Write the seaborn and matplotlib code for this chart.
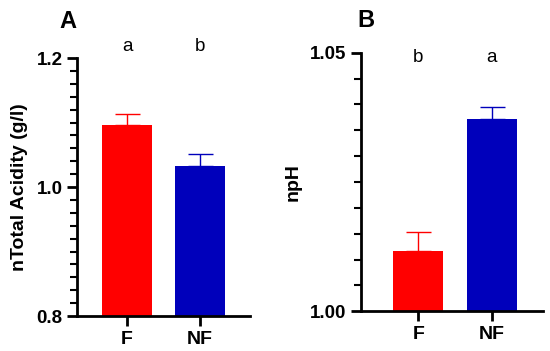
import seaborn as sns
import matplotlib.pyplot as plt
from matplotlib.ticker import MultipleLocator
import pandas as pd

GROUPS = ["F", "NF"]
ACIDITY_MEAN = [1.096, 1.033]
ACIDITY_ERR = [0.017, 0.018]
ACIDITY_LETTERS = ["a", "b"]
PH_MEAN = [1.0117, 1.0372]
PH_ERR = [0.0036, 0.0022]
PH_LETTERS = ["b", "a"]
COLORS = ["#FF0000", "#0000BB"]


def draw_panel(ax, means, errs, letters, ylabel, ylim, major, minor, xlim,
               letter_y):
    df = pd.DataFrame({"group": GROUPS, "value": means})
    sns.barplot(data=df, x="group", y="value", hue="group", palette=COLORS,
                legend=False, width=0.68, errorbar=None, ax=ax, linewidth=0,
                saturation=1)
    for i, (m, e) in enumerate(zip(means, errs)):
        ax.errorbar(i, m, yerr=[[0], [e]], color=COLORS[i], capsize=9,
                    elinewidth=1, capthick=1)
    ax.set_ylim(*ylim)
    ax.set_xlim(*xlim)
    ax.yaxis.set_major_locator(MultipleLocator(major))
    ax.yaxis.set_minor_locator(MultipleLocator(minor))
    ax.set_xlabel("")
    ax.set_ylabel(ylabel, fontsize=14, fontweight="bold", labelpad=6,
                  color="black")
    for s in ["top", "right"]:
        ax.spines[s].set_visible(False)
    for s in ["left", "bottom"]:
        ax.spines[s].set_linewidth(2)
        ax.spines[s].set_color("black")
    ax.tick_params(axis="both", which="major", length=7, width=2,
                   labelsize=13.5, color="black", labelcolor="black")
    ax.tick_params(axis="x", labelsize=14)
    ax.tick_params(axis="y", which="minor", length=5, width=1.5, color="black")
    for lab in ax.get_xticklabels() + ax.get_yticklabels():
        lab.set_fontweight("bold")
    for i, t in enumerate(letters):
        ax.text(i, letter_y, t, transform=ax.get_xaxis_transform(),
                ha="center", va="bottom", fontsize=13.5, color="black")


def main():
    sns.set_style("ticks")
    plt.rcParams["font.family"] = ["Liberation Sans", "DejaVu Sans"]
    plt.rcParams["text.color"] = "black"
    plt.rcParams["axes.labelcolor"] = "black"
    fig = plt.figure(figsize=(5.5, 3.51), dpi=100)

    ax_a = fig.add_axes([0.140, 0.0997, 0.315, 0.735])
    draw_panel(ax_a, ACIDITY_MEAN, ACIDITY_ERR, ACIDITY_LETTERS,
               "nTotal Acidity (g/l)", (0.8, 1.2), 0.2, 0.02,
               (-0.685, 1.685), 1.01)
    ax_a.yaxis.set_major_formatter(plt.FuncFormatter(lambda v, p: f"{v:.1f}"))

    ax_b = fig.add_axes([0.656, 0.113, 0.331, 0.737])
    draw_panel(ax_b, PH_MEAN, PH_ERR, PH_LETTERS,
               "npH", (1.0, 1.05), 0.05, 0.005, (-0.78, 1.69), 0.95)
    ax_b.yaxis.set_major_formatter(plt.FuncFormatter(lambda v, p: f"{v:.2f}"))

    fig.text(68 / 550, 1 - 28 / 351, "A", fontsize=17, fontweight="bold",
             ha="center", va="baseline", color="black")
    fig.text(366 / 550, 1 - 27 / 351, "B", fontsize=17, fontweight="bold",
             ha="center", va="baseline", color="black")

    fig.savefig("out.png", dpi=100)
    plt.close(fig)


if __name__ == "__main__":
    main()
